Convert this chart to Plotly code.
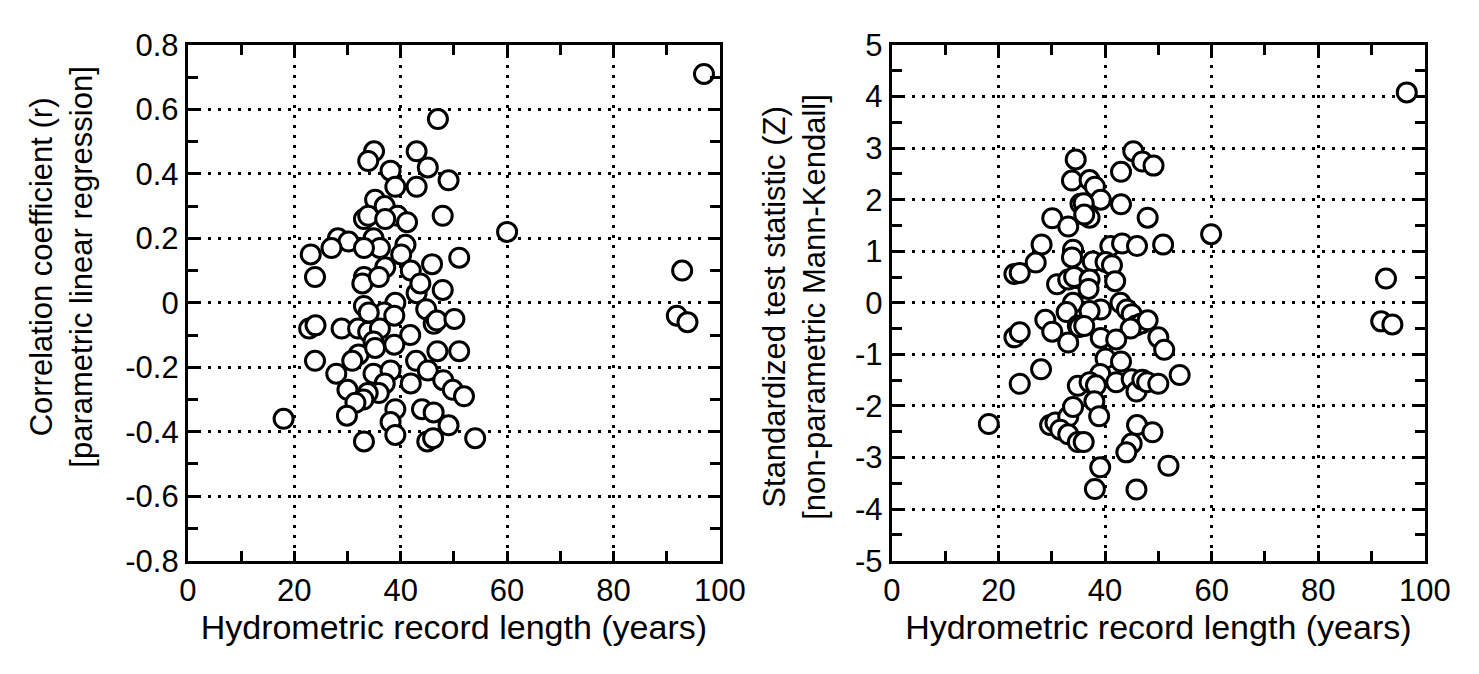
import plotly.graph_objects as go

# left panel: record length (years) vs Pearson r
rec_len_r = [47.0, 35.0, 33.9, 43.0, 45.1, 38.1, 49.0, 39.0, 43.0, 35.2,
             37.0, 39.4, 47.9, 33.1, 33.9, 37.1, 41.2, 60.0, 28.2, 30.2,
             27.0, 23.1, 34.9, 36.1, 33.1, 40.9, 40.1, 51.0, 45.9, 37.1,
             41.9, 23.9, 33.1, 32.8, 35.9, 43.0, 43.7, 47.9, 33.1, 39.0,
             36.9, 38.8, 44.8, 46.2, 46.8, 50.1, 22.8, 24.0, 28.9, 32.0,
             33.9, 36.1, 41.8, 34.9, 38.8, 32.1, 30.9, 23.9, 46.9, 51.0,
             42.9, 45.1, 27.9, 34.9, 38.1, 37.0, 41.9, 48.0, 49.8, 51.9,
             30.0, 35.9, 33.8, 33.0, 31.5, 39.0, 44.0, 46.2, 29.9, 18.0,
             38.1, 49.0, 39.0, 54.0, 33.1, 45.0, 46.1, 92.9, 91.9, 93.9,
             97.0, 34.0, 35.2]
corr_r = [0.57, 0.47, 0.44, 0.47, 0.42, 0.41, 0.38, 0.36, 0.36, 0.32,
          0.30, 0.27, 0.27, 0.26, 0.27, 0.26, 0.25, 0.22, 0.20, 0.19,
          0.17, 0.15, 0.20, 0.17, 0.17, 0.18, 0.15, 0.14, 0.12, 0.11,
          0.10, 0.08, 0.08, 0.06, 0.08, 0.03, 0.06, 0.04, -0.01, 0.0,
          -0.03, -0.04, -0.02, -0.065, -0.055, -0.05, -0.08, -0.07, -0.08, -0.08,
          -0.09, -0.08, -0.10, -0.12, -0.13, -0.16, -0.18, -0.18, -0.15, -0.15,
          -0.18, -0.21, -0.22, -0.22, -0.21, -0.25, -0.25, -0.24, -0.27, -0.29,
          -0.27, -0.28, -0.28, -0.30, -0.31, -0.33, -0.33, -0.34, -0.35, -0.36,
          -0.37, -0.38, -0.41, -0.42, -0.43, -0.43, -0.42, 0.10, -0.04, -0.06,
          0.71, -0.03, -0.14]

# right panel: record length (years) vs Mann-Kendall Z
rec_len_z = [34.5, 33.8, 35.4, 30.1, 33.1, 28.1, 34.0, 33.8, 27.0, 23.0,
             24.0, 31.0, 33.1, 34.6, 34.0, 32.8, 28.8, 30.1, 23.0, 24.0,
             33.1, 34.9, 28.0, 24.0, 34.9, 18.2, 29.7, 30.7, 33.1, 34.0,
             31.6, 33.1, 34.9, 45.3, 47.0, 49.1, 43.0, 37.1, 38.1, 39.2,
             36.0, 43.0, 37.1, 36.1, 48.0, 59.9, 41.0, 43.2, 46.0, 50.9,
             37.7, 40.1, 41.3, 41.9, 34.2, 37.1, 36.9, 42.9, 39.2, 37.1,
             44.1, 45.0, 35.2, 36.1, 45.8, 46.8, 48.0, 44.8, 39.2, 42.1,
             50.0, 51.1, 40.1, 43.0, 39.1, 37.1, 38.3, 42.1, 45.0, 45.9,
             47.0, 47.9, 50.0, 54.0, 38.0, 38.9, 36.0, 46.0, 48.9, 45.0,
             44.0, 39.1, 51.9, 38.1, 45.9, 92.7, 91.8, 93.9, 96.6]
stat_z = [2.78, 2.37, 1.92, 1.64, 1.48, 1.13, 1.03, 0.88, 0.78, 0.56,
          0.58, 0.36, 0.45, 0.48, 0.0, -0.18, -0.33, -0.56, -0.67, -0.57,
          -0.77, -0.44, -1.29, -1.57, -1.61, -2.35, -2.37, -2.32, -2.21, -2.02,
          -2.46, -2.55, -2.70, 2.94, 2.74, 2.66, 2.54, 2.38, 2.25, 2.00,
          1.93, 1.91, 1.65, 1.71, 1.65, 1.33, 1.10, 1.15, 1.10, 1.13,
          0.80, 0.79, 0.73, 0.42, 0.50, 0.45, 0.27, 0.0, -0.13, -0.16,
          -0.13, -0.22, -0.47, -0.45, -0.44, -0.40, -0.34, -0.50, -0.68, -0.71,
          -0.67, -0.91, -1.08, -1.14, -1.38, -1.54, -1.60, -1.54, -1.48, -1.72,
          -1.49, -1.54, -1.57, -1.40, -1.91, -2.20, -2.70, -2.37, -2.51, -2.73,
          -2.90, -3.19, -3.16, -3.61, -3.62, 0.47, -0.36, -0.42, 4.08]

x_ticks = [0, 20, 40, 60, 80, 100]
x_ticktext = ["0", "20", "40", "60", "80", "100"]
r_ticks = [-0.8, -0.6, -0.4, -0.2, 0, 0.2, 0.4, 0.6, 0.8]
r_ticktext = ["-0.8", "-0.6", "-0.4", "-0.2", "0", "0.2", "0.4", "0.6", "0.8"]
z_ticks = [-5, -4, -3, -2, -1, 0, 1, 2, 3, 4, 5]
z_ticktext = ["-5", "-4", "-3", "-2", "-1", "0", "1", "2", "3", "4", "5"]

FONT = "Liberation Sans, Arial, sans-serif"
marker = dict(symbol="circle", size=19, color="white",
              line=dict(color="black", width=3))

fig = go.Figure()
fig.add_trace(go.Scatter(x=rec_len_r, y=corr_r, mode="markers", marker=marker,
                         xaxis="x", yaxis="y", showlegend=False))
fig.add_trace(go.Scatter(x=rec_len_z, y=stat_z, mode="markers", marker=marker,
                         xaxis="x2", yaxis="y2", showlegend=False))


def axis_style(**kw):
    d = dict(showline=True, linecolor="black", linewidth=3, mirror="allticks",
             ticks="inside", ticklen=10, tickwidth=3, tickcolor="black",
             showgrid=True, gridcolor="black", gridwidth=3, griddash="3px,7px",
             zeroline=False, tickfont=dict(family=FONT, size=31, color="black"),
             title_font=dict(family=FONT, size=34, color="black"))
    d.update(kw)
    return d


def minor(step):
    return dict(dtick=step, ticks="inside", ticklen=10, tickwidth=3,
                tickcolor="black", showgrid=False)


xcommon = dict(range=[0, 100], tickmode="array", tickvals=x_ticks, ticktext=x_ticktext,
               minor=minor(10),
               title=dict(text="Hydrometric record length (years)", standoff=6))

fig.update_layout(
    width=1479, height=674,
    margin=dict(l=0, r=0, t=0, b=0),
    plot_bgcolor="white", paper_bgcolor="white",
    font=dict(family=FONT, color="black"),
    xaxis=axis_style(domain=[0.1183, 0.4868], anchor="y", **xcommon),
    yaxis=axis_style(domain=[0.1617, 0.9688], anchor="x", range=[-0.8, 0.8],
                     tickmode="array", tickvals=r_ticks, ticktext=r_ticktext,
                     minor=minor(0.1)),
    xaxis2=axis_style(domain=[0.6058, 0.975], anchor="y2", **xcommon),
    yaxis2=axis_style(domain=[0.1617, 0.9688], anchor="x2", range=[-5, 5],
                      tickmode="array", tickvals=z_ticks, ticktext=z_ticktext,
                      minor=minor(0.5)),
)

# y titles as rotated two-line annotations
ytitle_style = dict(xref="paper", yref="paper", showarrow=False, textangle=-90,
                    xanchor="center", yanchor="middle",
                    font=dict(family=FONT, size=31, color="black"))
fig.add_annotation(text="Correlation coefficient (r)<br>[parametric linear regression]",
                   x=46 / 1479, y=1 - 255 / 674, **ytitle_style)
fig.add_annotation(text="Standardized test statistic (Z)<br>[non-parametric Mann-Kendall]",
                   x=796 / 1479, y=1 - 297 / 674, **ytitle_style)

fig.write_html("out.html")
